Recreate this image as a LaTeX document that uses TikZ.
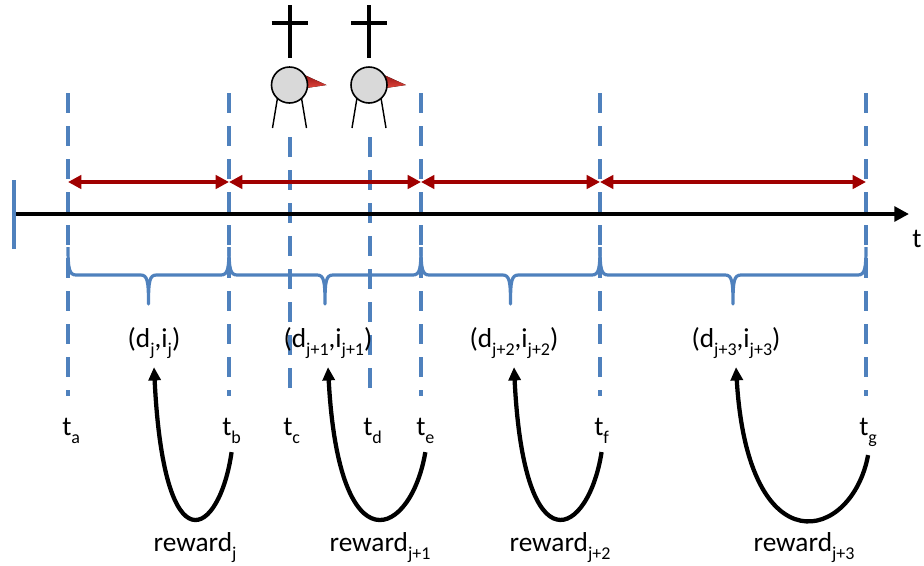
\documentclass[tikz,border=0pt]{standalone}
\usepackage{fontspec}
\setmainfont{Carlito}
\usetikzlibrary{arrows.meta}
\definecolor{tblue}{RGB}{79,129,189}
\definecolor{tred}{RGB}{160,0,0}
\definecolor{beaktop}{RGB}{150,20,20}
\definecolor{beakbot}{RGB}{225,70,60}
\definecolor{headgray}{RGB}{217,217,217}
% lowered, smaller index text
\newcommand\lo[1]{\raisebox{-0.32em}{\fontsize{13.5}{13.5}\selectfont #1}}
% curly brace under an interval, spikes pointing up at both ends
\newcommand\curly[2]{%
  \pgfmathsetmacro\xm{(#1+#2)/2}%
  \draw[brace] (#1,247) .. controls (#1,268) and (#1+1,275) .. (#1+8,275)
    -- (\xm-8,275) .. controls (\xm-1,275) and (\xm,281) .. (\xm,304)
    .. controls (\xm,281) and (\xm+1,275) .. (\xm+8,275)
    -- (#2-8,275) .. controls (#2-1,275) and (#2,268) .. (#2,247);}
\begin{document}
\begin{tikzpicture}[x=0.75pt,y=-0.75pt,
  font=\fontsize{20.5}{24}\selectfont,
  tick/.style={tblue,line width=3pt,dash pattern=on 15pt off 9.75pt},
  brace/.style={tblue,line width=2.4pt,line join=round},
  span/.style={tred,line width=2.6pt,
    {Triangle[length=10pt,width=10pt]}-{Triangle[length=10pt,width=10pt]}},
  axis/.style={black,line width=3pt,-{Triangle[length=11pt,width=11pt]}},
  rew/.style={black,line width=3.2pt,-{Triangle[length=10pt,width=9pt]}},
  lbl/.style={inner sep=0pt,anchor=base west},
  pair/.style={inner sep=0pt,anchor=base},
  cross/.style={black,line width=3pt},
  leg/.style={black,line width=1.1pt},
  head/.style={draw=black,line width=1.2pt,fill=headgray,circle,
    minimum size=27pt,inner sep=0pt},
]
\useasboundingbox (0,0) rectangle (924,565);

% dashed verticals at the time marks
\foreach \x in {68,229,421,600,866}
  \draw[tick] (\x,93) -- (\x,396);
\foreach \x in {290,370}
  \draw[tick] (\x,137) -- (\x,390);

% time axis
\coordinate (t0) at (16,214);
\coordinate (t1) at (909,214);
\draw[tblue,line width=3pt] (14,180) -- (14,249);
\draw[axis] (t0) -- (t1);
\node[lbl] (taxis) at (912,247) {t};

% decision intervals
\coordinate (ra) at (68,182);
\coordinate (rb) at (229,182);
\coordinate (re) at (421,182);
\coordinate (rf) at (600,182);
\coordinate (rg) at (866,182);
\draw[span] (ra) -- (rb);
\draw[span] (rb) -- (re);
\draw[span] (re) -- (rf);
\draw[span] (rf) -- (rg);

% braces
\curly{68}{229}
\curly{229}{421}
\curly{421}{600}
\curly{600}{866}

% decision / item labels
\node[pair] (p1) at (154,347) {(d\lo{j},i\lo{j})};
\node[pair] (p2) at (328,347) {(d\lo{j+1},i\lo{j+1})};
\node[pair] (p3) at (514,347) {(d\lo{j+2},i\lo{j+2})};
\node[pair] (p4) at (736,347) {(d\lo{j+3},i\lo{j+3})};

% time labels
\node[lbl] (ta) at (62,435) {t\lo{a}};
\node[lbl] (tb) at (222,435) {t\lo{b}};
\node[lbl] (tc) at (283,435) {t\lo{c}};
\node[lbl] (td) at (363,435) {t\lo{d}};
\node[lbl] (te) at (416,435) {t\lo{e}};
\node[lbl] (tf) at (594,435) {t\lo{f}};
\node[lbl] (tg) at (859,435) {t\lo{g}};

% reward labels
\node[pair] (w1) at (195,551) {reward\lo{j}};
\node[pair] (w2) at (380,551) {reward\lo{j+1}};
\node[pair] (w3) at (560,551) {reward\lo{j+2}};
\node[pair] (w4) at (804,551) {reward\lo{j+3}};

% reward feedback arrows
\draw[rew] ([yshift=-6pt]tb.south) .. controls +(-12,84) and +(10,205) .. ([yshift=-6pt]p1.south);
\draw[rew] ([yshift=-6pt]te.south) .. controls +(-14,84) and +(11,205) .. ([yshift=-6pt]p2.south);
\draw[rew] ([yshift=-6pt]tf.south) .. controls +(-13,84) and +(10,205) .. ([yshift=-6pt]p3.south);
\draw[rew] ([yshift=-6pt]tg.south) .. controls +(-16,86) and +(12,202) .. ([yshift=-6pt]p4.south);

% departed figures at t_c and t_d
\foreach \n/\x in {1/289.5,2/369} {
  \fill[top color=beaktop,bottom color=beakbot] (\x+15,75) -- (\x+37,85) -- (\x+17,88) -- cycle;
  \draw[leg] (\x-12,98) -- (\x-17,128);
  \draw[leg] (\x+12,98) -- (\x+17,128);
  \node[head] (h\n) at (\x,85) {};
  \draw[cross] (\x,5) -- (\x,58);
  \draw[cross] (\x-18,23) -- (\x+18,23);
}
\end{tikzpicture}
\end{document}
